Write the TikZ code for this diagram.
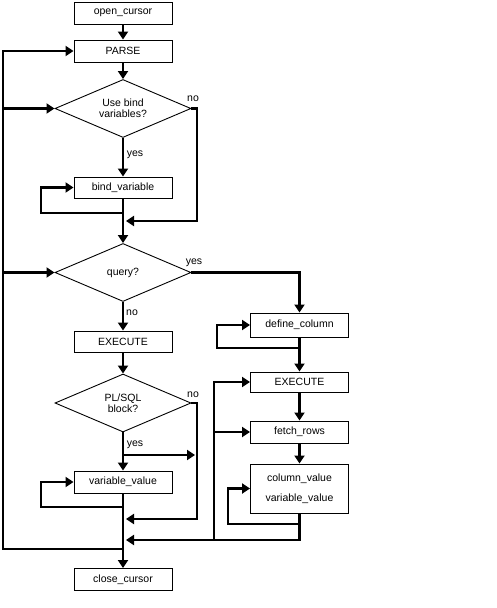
\documentclass[tikz,border=0pt]{standalone}
\usepackage{fontspec}
\setmainfont{Liberation Sans}
\usetikzlibrary{shapes.geometric,arrows.meta}
\begin{document}
\begin{tikzpicture}[x=1pt,y=-1pt,
  every node/.style={font=\fontsize{10.5}{11}\selectfont},
  box/.style={draw,line width=0.9pt,minimum width=98pt,minimum height=22pt,inner sep=0pt},
  dec/.style={draw,line width=0.9pt,diamond,aspect=2.4,minimum width=136pt,minimum height=58pt,inner sep=0pt,align=center},
  conn/.style={line width=2.8pt},
  arr/.style={line width=2.8pt,-{Triangle[length=8pt,width=10pt]}},
  lbl/.style={inner sep=0pt}
]
\useasboundingbox (0,0) rectangle (496,608);
% left column
\node[box] (oc) at (123,13) {open\_cursor};
\node[box] (parse) at (123,51) {PARSE};
\node[dec] (d1) at (123,108.5) {Use bind\\variables?};
\node[box,minimum height=21pt] (bind) at (123,187.5) {bind\_variable};
\node[dec] (d2) at (123,272.5) {query?};
\node[box,minimum height=21pt] (exec1) at (123,341.5) {EXECUTE};
\node[dec] (d3) at (123,403) {PL/SQL\\block?};
\node[box] (varval) at (123,482) {variable\_value};
\node[box] (close) at (123,579.5) {close\_cursor};
% right column
\node[box,minimum height=24pt] (defcol) at (299.5,325) {define\_column};
\node[box,minimum height=20pt] (exec2) at (299.5,382) {EXECUTE};
\node[box] (fetch) at (299.5,432) {fetch\_rows};
\node[box,minimum height=49pt,align=center] (colval) at (299.5,488.5) {column\_value\\[9pt]variable\_value};
% helper coordinates
\coordinate (n1a) at (197,108.5);
\coordinate (n1b) at (197,221);
\coordinate (n1c) at (126,221);
\coordinate (bl1) at (123,213);
\coordinate (bl2) at (41,213);
\coordinate (bl3) at (41,187.5);
\coordinate (L0) at (123,549);
\coordinate (L1) at (3,549);
\coordinate (L2) at (3,51);
\coordinate (L3) at (3,108.5);
\coordinate (L4) at (3,272.5);
\coordinate (y2a) at (299.5,272.5);
\coordinate (y3a) at (123,455);
\coordinate (y3b) at (195,455);
\coordinate (n3a) at (197,403);
\coordinate (n3b) at (197,519);
\coordinate (n3c) at (126,519);
\coordinate (vl1) at (123,507);
\coordinate (vl2) at (41,507);
\coordinate (vl3) at (41,482);
\coordinate (dl1) at (299.5,348);
\coordinate (dl2) at (217,348);
\coordinate (dl3) at (217,325);
\coordinate (cl1) at (299.5,524);
\coordinate (cl2) at (228,524);
\coordinate (cl3) at (228,488.5);
\coordinate (cb1) at (299.5,540);
\coordinate (cb2) at (126,540);
\coordinate (R0) at (214,540);
\coordinate (R1) at (214,382);
\coordinate (R2) at (214,432);
% connectors
\draw[arr] (oc) -- (parse);
\draw[arr] (parse) -- (d1);
\draw[arr] (d1) -- (bind);
\draw[arr] (d1.east) -- (n1a) -- (n1b) -- (n1c);
\draw[arr] (bl1) -- (bl2) -- (bl3) -- (bind.west);
\draw[arr] (bind) -- (d2);
\draw[arr] (L0) -- (L1) -- (L2) -- (parse.west);
\draw[arr] (L3) -- (d1.west);
\draw[arr] (L4) -- (d2.west);
\draw[arr] (d2.east) -- (y2a) -- (defcol.north);
\draw[arr] (d2) -- (exec1);
\draw[arr] (exec1) -- (d3);
\draw[arr] (d3) -- (varval);
\draw[arr] (y3a) -- (y3b);
\draw[arr] (d3.east) -- (n3a) -- (n3b) -- (n3c);
\draw[arr] (vl1) -- (vl2) -- (vl3) -- (varval.west);
\draw[arr] (varval) -- (close);
\draw[arr] (dl1) -- (dl2) -- (dl3) -- (defcol.west);
\draw[arr] (defcol) -- (exec2);
\draw[arr] (exec2) -- (fetch);
\draw[arr] (fetch) -- (colval);
\draw[arr] (cl1) -- (cl2) -- (cl3) -- (colval.west);
\draw[arr] (colval.south) -- (cb1) -- (cb2);
\draw[arr] (R0) -- (R1) -- (exec2.west);
\draw[arr] (R2) -- (fetch.west);
% labels
\node[lbl] (no1) at (193,99) {no};
\node[lbl] (yes1) at (135,155) {yes};
\node[lbl] (yes2) at (194,263) {yes};
\node[lbl] (no2) at (132,313) {no};
\node[lbl] (no3) at (193,395) {no};
\node[lbl] (yes3) at (135,445) {yes};
\end{tikzpicture}
\end{document}
